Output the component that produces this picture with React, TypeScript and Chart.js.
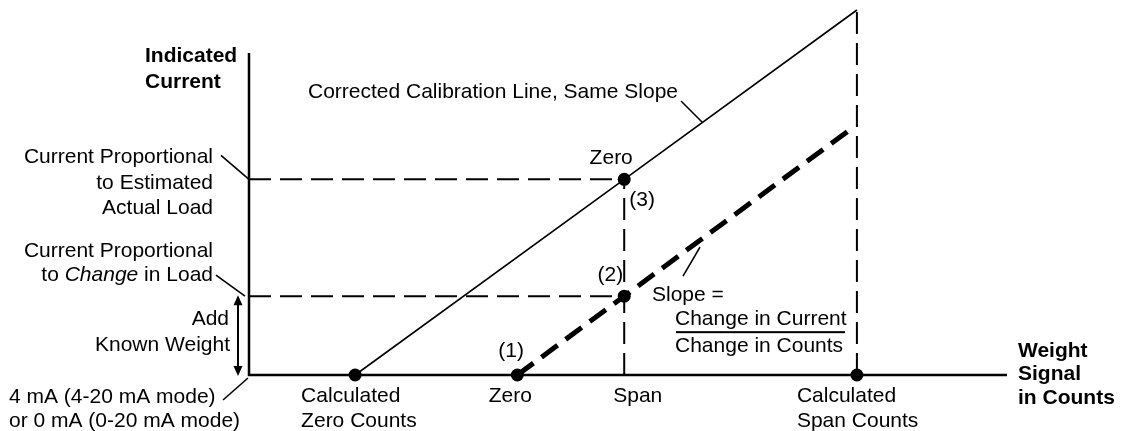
import React, { useEffect, useRef } from "react";
import { Chart, registerables } from "chart.js";

Chart.register(...registerables);

// Weight signal in counts (x axis) – key positions
const countKeys = ["Calculated Zero Counts", "Zero", "Span", "Calculated Span Counts"];
const countValues = [14.0, 35.4, 49.5, 80.2];
// Indicated current (y axis) – key levels
const currentKeys = ["Change in Load", "Estimated Actual Load"];
const currentValues = [21.6, 53.6];
// Corrected calibration line (same slope)
const correctedX = [14.0, 49.5, 80.2];
const correctedY = [0, 53.6, 100];
// Measured calibration line (thick dashed)
const measuredX = [35.4, 49.5, 79.6];
const measuredY = [0, 21.6, 67.7];
// Marked points
const pointX = [14.0, 35.4, 49.5, 49.5, 80.2];
const pointY = [0, 0, 21.6, 53.6, 0];
// Axis extents
const xAxisMax = 100;
const yAxisTop = 88.2;
const yScaleMax = 100;

const FONT = "21px 'Liberation Sans', Arial, sans-serif";
const BOLD = "bold 21px 'Liberation Sans', Arial, sans-serif";
const ITALIC = "italic 21px 'Liberation Sans', Arial, sans-serif";

const pts = (xs: number[], ys: number[]) => xs.map((x, i) => ({ x, y: ys[i] }));

export default function App() {
  const ref = useRef<HTMLCanvasElement | null>(null);

  useEffect(() => {
    if (!ref.current) return;
    const [calcZero, zero, span, calcSpan] = countValues;
    const [knownLvl, estLvl] = currentValues;

    const guide = {
      showLine: true,
      borderColor: "#000",
      borderWidth: 2,
      borderDash: [22, 9],
      pointRadius: 0,
      fill: false,
      clip: false as any,
    };

    const axesPlugin = {
      id: "diagramAxes",
      beforeDatasetsDraw(chart: any) {
        const { ctx, scales } = chart;
        const xs = scales.x, ys = scales.y;
        const x0 = xs.getPixelForValue(0), y0 = ys.getPixelForValue(0);
        ctx.save();
        ctx.strokeStyle = "#000";
        ctx.lineWidth = 2.5;
        ctx.beginPath();
        ctx.moveTo(x0, ys.getPixelForValue(yAxisTop));
        ctx.lineTo(x0, y0);
        ctx.lineTo(xs.getPixelForValue(xAxisMax), y0);
        ctx.stroke();
        ctx.restore();
      },
    };

    const textPlugin = {
      id: "diagramText",
      afterDraw(chart: any) {
        const { ctx, scales } = chart;
        const xs = scales.x, ys = scales.y;
        const X = (v: number) => xs.getPixelForValue(v);
        const Y = (v: number) => ys.getPixelForValue(v);
        const ax = X(0), ay = Y(0), axEnd = X(xAxisMax);
        const yEst = Y(estLvl), yKnown = Y(knownLvl);

        ctx.save();
        ctx.fillStyle = "#000";
        ctx.strokeStyle = "#000";
        ctx.textBaseline = "alphabetic";
        const t = (s: string, x: number, y: number, align: CanvasTextAlign = "left", font = FONT) => {
          ctx.font = font;
          ctx.textAlign = align;
          ctx.fillText(s, x, y);
        };
        const line = (x1: number, y1: number, x2: number, y2: number, w = 1.6) => {
          ctx.lineWidth = w;
          ctx.beginPath();
          ctx.moveTo(x1, y1);
          ctx.lineTo(x2, y2);
          ctx.stroke();
        };

        // Axis titles
        t("Indicated", ax - 104, 62, "left", BOLD);
        t("Current", ax - 104, 88, "left", BOLD);
        t("Weight", axEnd + 11, 357, "left", BOLD);
        t("Signal", axEnd + 11, 380, "left", BOLD);
        t("in Counts", axEnd + 11, 404, "left", BOLD);

        // Left-side level labels
        const rx = ax - 36;
        t("Current Proportional", rx, yEst - 16, "right");
        t("to Estimated", rx, yEst + 10, "right");
        t("Actual Load", rx, yEst + 35, "right");
        line(rx + 8, yEst - 24, ax, yEst);

        t("Current Proportional", rx, yKnown - 39, "right");
        ctx.font = FONT;
        const w1 = ctx.measureText("to ").width;
        const w3 = ctx.measureText(" in Load").width;
        ctx.font = ITALIC;
        const w2 = ctx.measureText("Change").width;
        const sx = rx - (w1 + w2 + w3);
        t("to ", sx, yKnown - 15, "left", FONT);
        t("Change", sx + w1, yKnown - 15, "left", ITALIC);
        t(" in Load", sx + w1 + w2, yKnown - 15, "left", FONT);
        line(rx + 3, yKnown - 21, ax - 4, yKnown);

        t("Add", ax - 20, yKnown + 29, "right");
        t("Known Weight", ax - 19, yKnown + 55, "right");

        // double arrow
        const arX = ax - 11;
        const top = yKnown - 1, bot = ay + 1;
        line(arX, top + 8, arX, bot - 8, 2);
        ctx.beginPath();
        ctx.moveTo(arX, top);
        ctx.lineTo(arX - 4.5, top + 10);
        ctx.lineTo(arX + 4.5, top + 10);
        ctx.closePath();
        ctx.fill();
        ctx.beginPath();
        ctx.moveTo(arX, bot);
        ctx.lineTo(arX - 4.5, bot - 10);
        ctx.lineTo(arX + 4.5, bot - 10);
        ctx.closePath();
        ctx.fill();

        t("4 mA (4-20 mA mode)", 9, ay + 28, "left");
        t("or 0 mA (0-20 mA mode)", 9, ay + 52, "left");
        line(ax - 26, ay + 25, ax - 1, ay + 3);

        // Below-axis count labels
        const r1 = ay + 27, r2 = ay + 52;
        t("Calculated", X(calcZero) - 54, r1);
        t("Zero Counts", X(calcZero) - 54, r2);
        t("Zero", X(zero) - 7, r1, "center");
        t("Span", X(span) - 11, r1);
        t("Calculated", X(calcSpan) - 60, r1);
        t("Span Counts", X(calcSpan) - 60, r2);

        // Point annotations
        t("Zero", X(span) - 13, yEst - 15, "center");
        t("(3)", X(span) + 5, yEst + 27);
        t("(2)", X(span) - 1, yKnown - 15, "right");
        t("(1)", X(zero) - 19, ay - 18);

        // Corrected line label
        t("Corrected Calibration Line, Same Slope", 678, 98, "right");
        line(681, 101, 702, 122);

        // Slope label
        const slx = 652;
        t("Slope =", slx, yKnown + 5);
        t("Change in Current", slx + 23, yKnown + 29);
        ctx.fillRect(slx + 24, yKnown + 35, 169, 2);
        t("Change in Counts", slx + 23, yKnown + 56);
        line(683, yKnown - 20, 700, yKnown - 49);

        ctx.restore();
      },
    };

    const chart = new Chart(ref.current, {
      type: "scatter",
      data: {
        datasets: [
          { ...guide, data: [{ x: 0, y: estLvl }, { x: span, y: estLvl }] },
          { ...guide, data: [{ x: 0, y: knownLvl }, { x: span, y: knownLvl }] },
          { ...guide, data: [{ x: span, y: 0 }, { x: span, y: estLvl }] },
          { ...guide, data: [{ x: calcSpan, y: 0 }, { x: calcSpan, y: yScaleMax }] },
          {
            data: pts(correctedX, correctedY),
            showLine: true,
            borderColor: "#000",
            borderWidth: 1.6,
            pointRadius: 0,
            clip: false as any,
          },
          {
            data: pts(measuredX, measuredY),
            showLine: true,
            borderColor: "#000",
            borderWidth: 5,
            borderDash: [20, 10],
            pointRadius: 0,
            clip: false as any,
          },
          {
            data: pts(pointX, pointY),
            showLine: false,
            pointRadius: 6.5,
            pointBackgroundColor: "#000",
            pointBorderWidth: 0,
            clip: false as any,
          },
        ],
      },
      options: {
        animation: false,
        responsive: true,
        maintainAspectRatio: false,
        events: [],
        layout: { padding: { left: 249, right: 117, top: 10, bottom: 56 } },
        scales: {
          x: { type: "linear", min: 0, max: xAxisMax, display: false },
          y: { type: "linear", min: 0, max: yScaleMax, display: false },
        },
        plugins: { legend: { display: false }, tooltip: { enabled: false } },
      },
      plugins: [axesPlugin, textPlugin],
    });
    return () => chart.destroy();
  }, []);

  return (
    <div style={{ position: "fixed", left: 0, top: 0, width: 1124, height: 431, background: "#fff" }}>
      <canvas ref={ref} />
    </div>
  );
}
